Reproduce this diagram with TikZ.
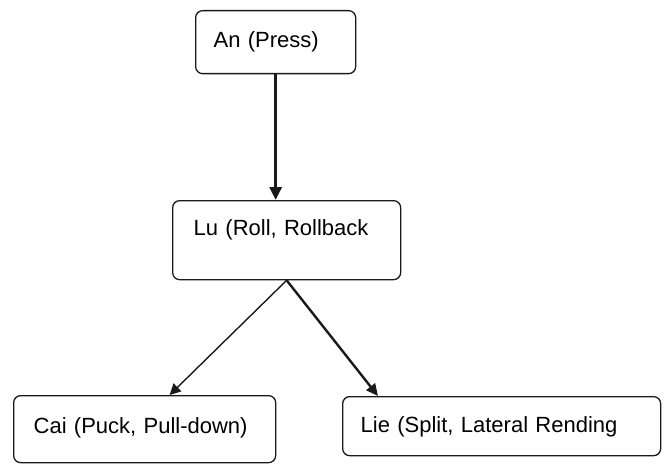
\documentclass[tikz,border=0pt]{standalone}
\usepackage{fontspec}
\setmainfont{Liberation Sans}
\usetikzlibrary{positioning,arrows.meta}
\definecolor{frink}{HTML}{1A1A1A}

\begin{document}
\begin{tikzpicture}[
  x=1pt, y=-1pt,
  font=\fontsize{22}{26}\selectfont,
  stage/.style={draw=frink, line width=1.3pt, rounded corners=7pt,
    anchor=north west, align=left, inner ysep=0pt, fill=white},
  link/.style={draw=frink, -{Triangle[length=13pt,width=12pt]}},
  ]
  \useasboundingbox (0,0) rectangle (666,468);
  % The four movements.
  \node[stage, inner xsep=18pt, text width=124pt, text height=37pt, text depth=26pt]
    (an) at (195,10) {An (Press)};
  \node[stage, inner xsep=21pt, text width=186pt, text height=35pt, text depth=44pt]
    (lu) at (172,200) {Lu (Roll, Rollback};
  \node[stage, inner xsep=20pt, text width=222pt, text height=38pt, text depth=29pt]
    (cai) at (13,395) {Cai (Puck, Pull-down)};
  \node[stage, inner xsep=18pt, text width=282pt, text height=36pt, text depth=23pt]
    (lie) at (342,396) {Lie (Split, Lateral Rending};

  % Connectors.
  \draw[link, line width=3.5pt] (an.south) -- (an.south |- lu.north);
  \draw[link, line width=1.4pt, -{Triangle[length=11pt,width=11pt]}]
    (lu.south) -- ([xshift=25pt]cai.north);
  \draw[link, line width=2.4pt, -{Triangle[length=12pt,width=11pt]}]
    (lu.south) -- ([xshift=36pt]lie.north west);
\end{tikzpicture}
\end{document}
